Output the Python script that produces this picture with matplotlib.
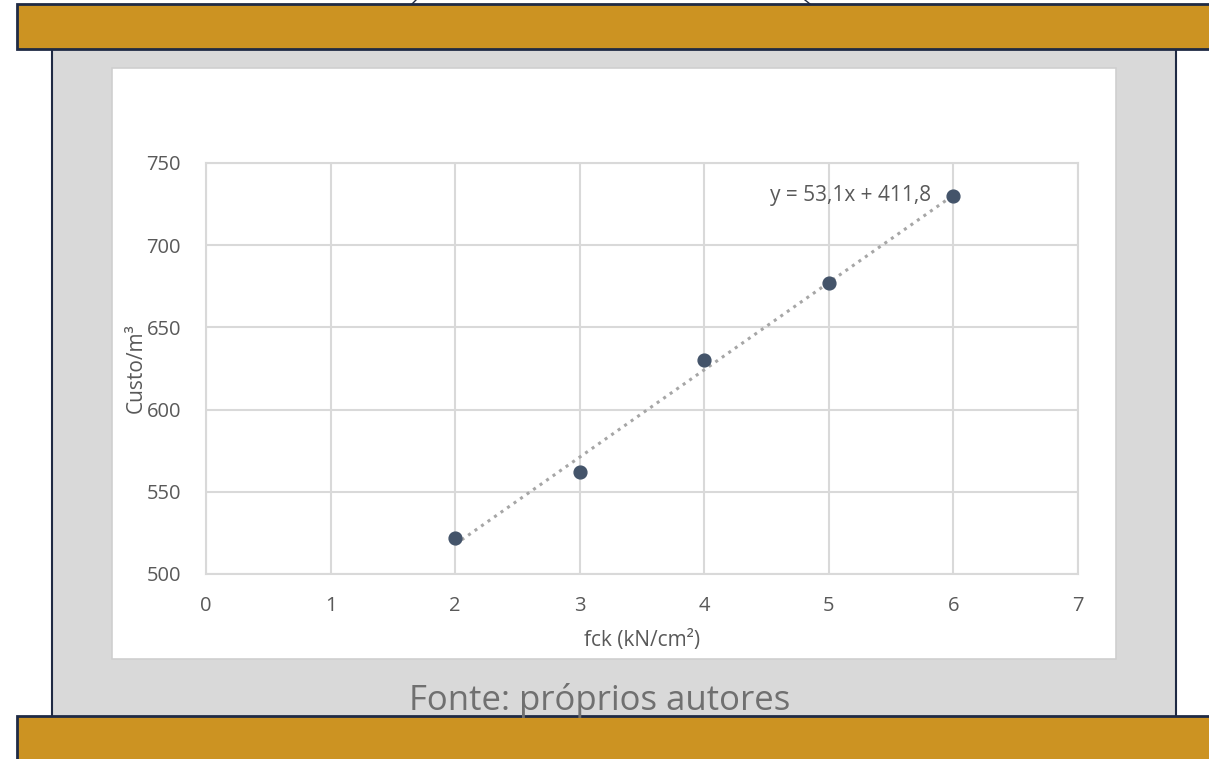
"""Custo/m3 vs fck scatter with linear trendline, inside the slide frame."""
import numpy as np
import matplotlib
matplotlib.use('Agg')
import matplotlib.pyplot as plt
from matplotlib.patches import Rectangle

fck = [2, 3, 4, 5, 6]
custo = [522, 562, 630, 677, 730]
x_ticks = [0, 1, 2, 3, 4, 5, 6, 7]
y_ticks = [500, 550, 600, 650, 700, 750]

W, H = 1209, 759
GRID = '#d9d9d9'
TEXT = '#595959'
NAVY = '#1f2a44'
GOLD = '#cc9322'

plt.rcParams['font.family'] = ['Open Sans', 'DejaVu Sans']


def main():
    fig = plt.figure(figsize=(W / 100, H / 100), dpi=100)
    fig.patch.set_facecolor('white')

    # frame drawn in pixel coordinates
    bg = fig.add_axes([0, 0, 1, 1])
    bg.set_xlim(0, W)
    bg.set_ylim(H, 0)
    bg.axis('off')
    bg.add_patch(Rectangle((52, 46), 1124, 672, facecolor='#d9d9d9',
                           edgecolor=NAVY, linewidth=1.5))
    bg.add_patch(Rectangle((112, 68), 1004, 591, facecolor='white',
                           edgecolor='#cfcfcf', linewidth=1.2))
    bg.add_patch(Rectangle((17, 4), 1210, 45, facecolor=GOLD,
                           edgecolor=NAVY, linewidth=2))
    bg.add_patch(Rectangle((17, 716), 1210, 60, facecolor=GOLD,
                           edgecolor=NAVY, linewidth=2))
    bg.plot([416, 412], [0, 4], color=NAVY, linewidth=1)
    bg.plot([805, 810], [0, 4], color=NAVY, linewidth=1)
    bg.text(600, 700, 'Fonte: próprios autores', ha='center', va='center',
            fontsize=25, color='#707070')

    ax = fig.add_axes([206 / W, 1 - 574 / H, (1078 - 206) / W, (574 - 163) / H])
    ax.set_facecolor('white')
    ax.set_xlim(0, 7)
    ax.set_ylim(500, 750)
    ax.set_xticks(x_ticks)
    ax.set_yticks(y_ticks)
    ax.grid(True, color=GRID, linewidth=1.5)
    ax.set_axisbelow(True)
    for s in ax.spines.values():
        s.set_color(GRID)
        s.set_linewidth(1.5)
    ax.tick_params(length=0, labelsize=14.5, colors=TEXT)
    ax.tick_params(axis='y', pad=18)
    ax.tick_params(axis='x', pad=16)

    # linear trendline
    a, b = np.polyfit(fck, custo, 1)
    xs = np.array([fck[0], fck[-1]])
    ax.plot(xs, a * xs + b, linestyle=(0, (1, 1.6)), color='#a6a6a6',
            linewidth=2.2, zorder=2)
    ax.scatter(fck, custo, s=85, color='#44546a', zorder=3)
    eq = f"y = {a:.1f}x + {b:.1f}".replace('.', ',')
    ax.text(5.82, 730, eq, ha='right', va='center', fontsize=15, color=TEXT)

    ax.set_xlabel('fck (kN/cm²)', fontsize=15, color=TEXT, labelpad=10)
    ax.set_ylabel('Custo/m³', fontsize=15, color=TEXT, labelpad=0)

    fig.savefig('out.png', dpi=100)


if __name__ == "__main__":
    main()
